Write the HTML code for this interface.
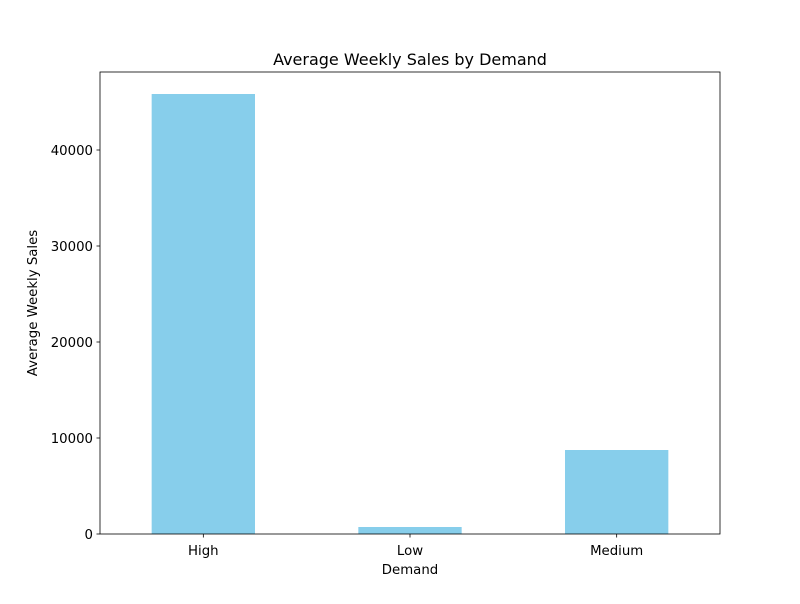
<!DOCTYPE html>
<html><head><meta charset="utf-8"><style>
body{margin:0;background:#fff;font-family:"DejaVu Sans","Liberation Sans",sans-serif;}
svg text{font-family:"DejaVu Sans","Liberation Sans",sans-serif;}
</style></head><body>
<svg id="chart" width="800" height="600" xmlns="http://www.w3.org/2000/svg"></svg>
<script>
const categories = ["High","Low","Medium"];
const salesValues = [45833, 729, 8750];
const yTicks = [0,10000,20000,30000,40000];
const yTickLabels = ["0","10000","20000","30000","40000"];

const L=100,R=720,T=72,B=534,YMAX=48125;
const svg=document.getElementById('chart');
const NS='http://www.w3.org/2000/svg';
const x=i=>L+(i+0.5)*(R-L)/categories.length;
const y=v=>B-(v/YMAX)*(B-T);
function mk(tag,attrs,txt){const e=document.createElementNS(NS,tag);for(const k in attrs)e.setAttribute(k,attrs[k]);if(txt!==undefined)e.textContent=txt;svg.appendChild(e);return e;}
const bw=(R-L)/categories.length*0.5;
categories.forEach((c,i)=>{
  const b=mk('rect',{x:x(i)-bw/2,y:y(salesValues[i]),width:bw,height:y(0)-y(salesValues[i]),fill:'#87ceeb'});
  
  
  const t=mk('line',{x1:x(i),x2:x(i),y1:B,y2:B+3.5,stroke:'#000','stroke-width':0.8});
  
  
  const lb=mk('text',{x:x(i),y:B+21,'text-anchor':'middle','font-size':13.3},c);
  
  
});
yTicks.forEach((v,i)=>{
  const t=mk('line',{x1:L-3.5,x2:L,y1:y(v),y2:y(v),stroke:'#000','stroke-width':0.8});
  
  
  const lb=mk('text',{x:L-7,y:y(v)+5,'text-anchor':'end','font-size':13.3},yTickLabels[i]);
  
  
});
const fr=mk('rect',{x:L,y:T,width:R-L,height:B-T,fill:'none',stroke:'#000','stroke-width':0.8});


const ti=mk('text',{x:(L+R)/2,y:T-7,'text-anchor':'middle','font-size':16},'Average Weekly Sales by Demand');


const xt=mk('text',{x:(L+R)/2,y:574,'text-anchor':'middle','font-size':13.3},'Demand');


const yt=mk('text',{x:37,y:(T+B)/2,'text-anchor':'middle','font-size':13.3,transform:'rotate(-90 37 '+((T+B)/2)+')'},'Average Weekly Sales');


</script>
</body></html>
